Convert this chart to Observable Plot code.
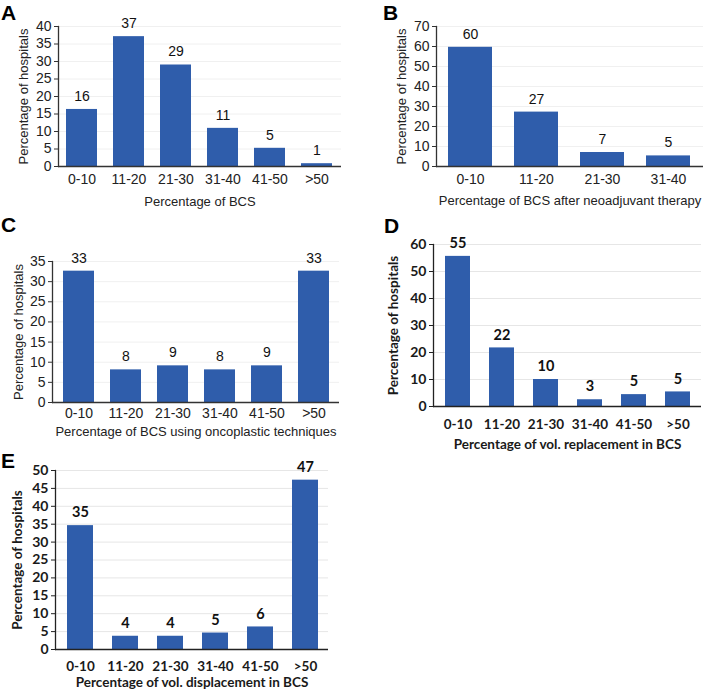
<!DOCTYPE html>
<html><head><meta charset="utf-8">
<script src="https://cdn.jsdelivr.net/npm/d3@7"></script>
<script src="https://cdn.jsdelivr.net/npm/@observablehq/plot@0.6"></script>
<style>
body{margin:0;background:#fff;}
#fig{position:relative;width:709px;height:690px;overflow:hidden;background:#fff;}
.panel{position:absolute;}
.letter{position:absolute;font-family:"Liberation Sans",Arial,sans-serif;font-weight:bold;font-size:21px;line-height:21px;color:#000;}
</style></head><body><div id="fig"></div>
<script>
// ---- data ----
const catsA = ["0-10","11-20","21-30","31-40","41-50",">50"];
const valuesA = [16.3, 37.1, 29, 10.9, 5.2, 0.8];
const labelsA = ["16","37","29","11","5","1"];

const catsB = ["0-10","11-20","21-30","31-40"];
const valuesB = [59.6, 27.2, 7.0, 5.3];
const labelsB = ["60","27","7","5"];

const catsC = ["0-10","11-20","21-30","31-40","41-50",">50"];
const valuesC = [32.6, 8.1, 9.1, 8.1, 9.1, 32.6];
const labelsC = ["33","8","9","8","9","33"];

const catsD = ["0-10","11-20","21-30","31-40","41-50",">50"];
const valuesD = [55.6, 21.7, 10.0, 2.5, 4.4, 5.4];
const labelsD = ["55","22","10","3","5","5"];

const catsE = ["0-10","11-20","21-30","31-40","41-50",">50"];
const valuesE = [34.6, 3.7, 3.7, 4.6, 6.3, 47.3];
const labelsE = ["35","4","4","5","6","47"];

const yTitle = "Percentage of hospitals";
const titleA = "Percentage of BCS";
const titleB = "Percentage of BCS after neoadjuvant therapy";
const titleC = "Percentage of BCS using oncoplastic techniques";
const titleD = "Percentage of vol. replacement in BCS";
const titleE = "Percentage of vol. displacement in BCS";

const barColor = "#2f5dab";
const fig = document.getElementById("fig");

function panel(o) {
  const data = o.cats.map((c, i) => ({cat: c, v: o.values[i], lab: o.labels[i]}));
  const ticks = d3.range(0, o.yMax + o.yStep / 2, o.yStep);
  const chart = Plot.plot({
    width: o.width, height: o.height,
    marginLeft: o.ml, marginRight: o.mr, marginTop: o.mt, marginBottom: o.mb,
    style: {fontFamily: o.font, fontSize: o.tfs + "px", fontWeight: o.fw, color: o.textColor, background: "transparent", overflow: "visible"},
    x: {domain: o.cats, paddingInner: o.pad, paddingOuter: o.pad / 2, insetLeft: o.inset || 0, label: null},
    y: {domain: [0, o.yMax], label: null},
    marks: [
      Plot.gridY(ticks.slice(1), {stroke: o.grid, strokeOpacity: 1}),
      Plot.barY(data, {x: "cat", y: "v", fill: barColor}),
      Plot.text(data, {x: "cat", y: "v", text: "lab", dy: -13, lineAnchor: "middle", fontSize: o.vfs, fontWeight: o.fw, fill: "#111"}),
      Plot.axisY({ticks, tickSize: 4, tickPadding: 3, label: null, fontSize: o.yfs, stroke: o.axisColor}),
      Plot.axisY({ticks: [], tickSize: 0, label: yTitle, labelAnchor: "center", labelOffset: o.ylo, labelArrow: "none", fontSize: o.lfs}),
      Plot.axisX({tickSize: 0, tickPadding: o.tp, label: null, fontSize: o.tfs}),
      Plot.text([o.title], {frameAnchor: "bottom", dy: o.titleDy, lineAnchor: "middle", fontSize: o.lfs, fontWeight: o.fw, fill: o.textColor}),
      Plot.frame({anchor: "left", stroke: o.axisColor, strokeWidth: 1.3}),
      Plot.ruleY([0], {stroke: o.axisColor, strokeWidth: 1.3})
    ]
  });
  chart.classList.add("panel");
  chart.style.left = o.left + "px";
  chart.style.top = o.top + "px";
  fig.appendChild(chart);
  const L = document.createElement("div");
  L.className = "letter";
  L.textContent = o.letter;
  L.style.left = o.lx + "px";
  L.style.top = o.ly + "px";
  fig.appendChild(L);
}

const arial = "'Liberation Sans', Arial, sans-serif";
const calib = "Lato, 'Open Sans', sans-serif";

panel({letter: "A", lx: 1, ly: 2, cats: catsA, values: valuesA, labels: labelsA, title: titleA,
  left: 0, top: 0, width: 354, height: 215, ml: 58, mr: 13, mt: 26, mb: 49,
  yMax: 40, yStep: 5, pad: 0.33, font: arial, fw: "normal", tfs: 14, yfs: 14, lfs: 13, vfs: 14, textColor: "#222",
  axisColor: "#333", grid: "#f0f0f0", tp: 8, titleDy: 35, ylo: 40});

panel({letter: "B", lx: 383, ly: 2, cats: catsB, values: valuesB, labels: labelsB, title: titleB,
  left: 354, top: 0, width: 355, height: 215, ml: 82, mr: 6, mt: 26, mb: 49,
  yMax: 70, yStep: 10, pad: 0.33, font: arial, fw: "normal", tfs: 14, yfs: 14, lfs: 13, vfs: 14, textColor: "#222",
  axisColor: "#333", grid: "#f0f0f0", tp: 8, titleDy: 34, ylo: 40});

panel({letter: "C", lx: 1, ly: 214, cats: catsC, values: valuesC, labels: labelsC, title: titleC,
  left: 0, top: 220, width: 354, height: 220, ml: 52, mr: 15, mt: 41, mb: 38, inset: 2,
  yMax: 35, yStep: 5, pad: 0.33, font: arial, fw: "normal", tfs: 14, yfs: 14, lfs: 13, vfs: 14, textColor: "#222",
  axisColor: "#333", grid: "#f0f0f0", tp: 6, titleDy: 29, ylo: 39});

panel({letter: "D", lx: 384, ly: 215, cats: catsD, values: valuesD, labels: labelsD, title: titleD,
  left: 354, top: 220, width: 355, height: 230, ml: 79, mr: 8, mt: 24, mb: 44,
  yMax: 60, yStep: 10, pad: 0.44, font: calib, fw: "bold", tfs: 13.5, yfs: 14, lfs: 13.5, vfs: 14.5, textColor: "#1a1a1a",
  axisColor: "#222", grid: "#e6e6e6", tp: 13, titleDy: 38, ylo: 45});

panel({letter: "E", lx: 1, ly: 450, cats: catsE, values: valuesE, labels: labelsE, title: titleE,
  left: 0, top: 450, width: 354, height: 240, ml: 55, mr: 26, mt: 20, mb: 41, inset: 3,
  yMax: 50, yStep: 5, pad: 0.42, font: calib, fw: "bold", tfs: 13.5, yfs: 14, lfs: 13.5, vfs: 14.5, textColor: "#1a1a1a",
  axisColor: "#222", grid: "#e6e6e6", tp: 12, titleDy: 33, ylo: 43});
</script></body></html>
